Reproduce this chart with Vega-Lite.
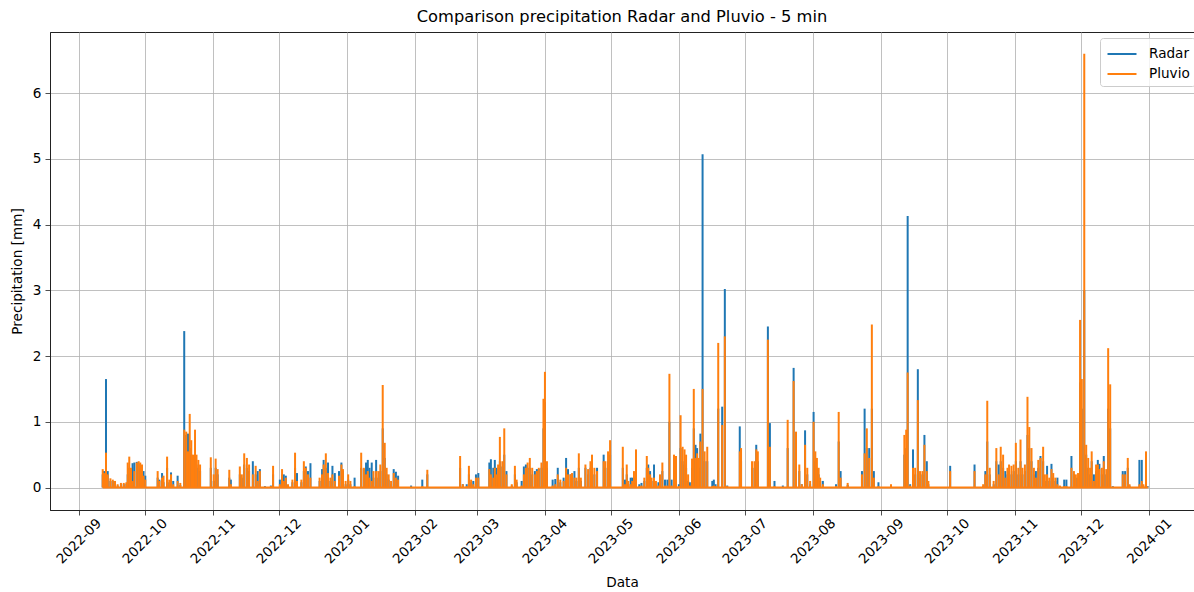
{
  "$schema": "https://vega.github.io/schema/vega-lite/v6.json",
  "autosize": {"type": "none"},
  "padding": {"left": 50, "top": 32, "right": 0, "bottom": 82},
  "width": 1144,
  "height": 478,
  "background": "white",
  "title": {
    "text": "Comparison precipitation Radar and Pluvio - 5 min",
    "font": "DejaVu Sans",
    "fontSize": 16.3,
    "fontWeight": "normal",
    "color": "#000000",
    "anchor": "middle",
    "offset": 7
  },
  "config": {
    "font": "DejaVu Sans",
    "view": {"stroke": "#222222", "strokeWidth": 1},
    "axis": {
      "labelFont": "DejaVu Sans",
      "labelFontSize": 13.6,
      "labelColor": "#000000",
      "titleFont": "DejaVu Sans",
      "titleFontSize": 13.6,
      "titleFontWeight": "normal",
      "titleColor": "#000000",
      "gridColor": "#b0b0b0",
      "gridWidth": 0.8,
      "domainColor": "#222222",
      "domainWidth": 1,
      "tickColor": "#222222",
      "tickWidth": 0.8,
      "tickSize": 5
    }
  },
  "data": {
    "values": [
      {"time": "2022-09-11T22:00", "radar": 0.2, "pluvio": 0.28},
      {"time": "2022-09-12T12:00", "radar": 0.25, "pluvio": 0.22},
      {"time": "2022-09-13T10:00", "radar": 1.65, "pluvio": 0.53},
      {"time": "2022-09-14T05:00", "radar": 0.25, "pluvio": 0.2},
      {"time": "2022-09-15T10:00", "radar": 0.1, "pluvio": 0.14},
      {"time": "2022-09-16T12:00", "radar": 0.1, "pluvio": 0.12},
      {"time": "2022-09-17T12:00", "radar": 0.08, "pluvio": 0.1},
      {"time": "2022-09-18T17:00", "radar": 0.03, "pluvio": 0.05},
      {"time": "2022-09-20T05:00", "radar": 0.05, "pluvio": 0.07},
      {"time": "2022-09-21T12:00", "radar": 0.05, "pluvio": 0.07},
      {"time": "2022-09-22T17:00", "radar": 0.06, "pluvio": 0.08},
      {"time": "2022-09-23T07:00", "radar": 0.2, "pluvio": 0.38},
      {"time": "2022-09-24T00:00", "radar": 0.3, "pluvio": 0.47},
      {"time": "2022-09-24T19:00", "radar": 0.2, "pluvio": 0.3},
      {"time": "2022-09-25T12:00", "radar": 0.37, "pluvio": 0.1},
      {"time": "2022-09-26T07:00", "radar": 0.38, "pluvio": 0.25},
      {"time": "2022-09-27T10:00", "radar": 0.39, "pluvio": 0.38},
      {"time": "2022-09-28T07:00", "radar": 0.36, "pluvio": 0.4},
      {"time": "2022-09-29T00:00", "radar": 0.3, "pluvio": 0.38},
      {"time": "2022-09-29T19:00", "radar": 0.25, "pluvio": 0.35},
      {"time": "2022-09-30T12:00", "radar": 0.25, "pluvio": 0.18},
      {"time": "2022-10-01T07:00", "radar": 0.18, "pluvio": 0.12},
      {"time": "2022-10-06T22:00", "radar": 0.15, "pluvio": 0.25},
      {"time": "2022-10-07T17:00", "radar": 0.12, "pluvio": 0.1},
      {"time": "2022-10-08T22:00", "radar": 0.22, "pluvio": 0.15},
      {"time": "2022-10-09T14:00", "radar": 0.08, "pluvio": 0.18},
      {"time": "2022-10-11T05:00", "radar": 0.3, "pluvio": 0.47},
      {"time": "2022-10-12T05:00", "radar": 0.08, "pluvio": 0.12},
      {"time": "2022-10-13T00:00", "radar": 0.23, "pluvio": 0.2},
      {"time": "2022-10-14T00:00", "radar": 0.1, "pluvio": 0.05},
      {"time": "2022-10-16T00:00", "radar": 0.18, "pluvio": 0.1},
      {"time": "2022-10-17T05:00", "radar": 0.04, "pluvio": 0.07},
      {"time": "2022-10-19T00:00", "radar": 2.38, "pluvio": 0.88},
      {"time": "2022-10-19T22:00", "radar": 0.8, "pluvio": 0.85},
      {"time": "2022-10-20T17:00", "radar": 0.82, "pluvio": 0.55},
      {"time": "2022-10-21T12:00", "radar": 0.6, "pluvio": 1.12},
      {"time": "2022-10-22T05:00", "radar": 0.5, "pluvio": 0.72},
      {"time": "2022-10-23T00:00", "radar": 0.4, "pluvio": 0.5},
      {"time": "2022-10-23T22:00", "radar": 0.5, "pluvio": 0.88},
      {"time": "2022-10-24T14:00", "radar": 0.35, "pluvio": 0.5},
      {"time": "2022-10-25T10:00", "radar": 0.3, "pluvio": 0.42},
      {"time": "2022-10-26T05:00", "radar": 0.25, "pluvio": 0.35},
      {"time": "2022-10-31T02:00", "radar": 0.3, "pluvio": 0.46},
      {"time": "2022-11-01T10:00", "radar": 0.1, "pluvio": 0.2},
      {"time": "2022-11-02T07:00", "radar": 0.3, "pluvio": 0.44},
      {"time": "2022-11-03T05:00", "radar": 0.2, "pluvio": 0.28},
      {"time": "2022-11-08T12:00", "radar": 0.15, "pluvio": 0.27},
      {"time": "2022-11-09T05:00", "radar": 0.12, "pluvio": 0.05},
      {"time": "2022-11-13T07:00", "radar": 0.2, "pluvio": 0.32},
      {"time": "2022-11-14T05:00", "radar": 0.15, "pluvio": 0.2},
      {"time": "2022-11-15T07:00", "radar": 0.35, "pluvio": 0.52},
      {"time": "2022-11-16T12:00", "radar": 0.3, "pluvio": 0.45},
      {"time": "2022-11-17T12:00", "radar": 0.25, "pluvio": 0.35},
      {"time": "2022-11-19T05:00", "radar": 0.4, "pluvio": 0.2},
      {"time": "2022-11-20T12:00", "radar": 0.2, "pluvio": 0.33},
      {"time": "2022-11-21T10:00", "radar": 0.25, "pluvio": 0.1},
      {"time": "2022-11-22T10:00", "radar": 0.28, "pluvio": 0.25},
      {"time": "2022-11-24T17:00", "radar": 0.02, "pluvio": 0.01},
      {"time": "2022-11-27T10:00", "radar": 0.03, "pluvio": 0.02},
      {"time": "2022-11-28T10:00", "radar": 0.2, "pluvio": 0.33},
      {"time": "2022-12-01T12:00", "radar": 0.12, "pluvio": 0.05},
      {"time": "2022-12-02T12:00", "radar": 0.2, "pluvio": 0.28},
      {"time": "2022-12-03T07:00", "radar": 0.2, "pluvio": 0.1},
      {"time": "2022-12-04T05:00", "radar": 0.18, "pluvio": 0.15},
      {"time": "2022-12-05T05:00", "radar": 0.03, "pluvio": 0.05},
      {"time": "2022-12-07T05:00", "radar": 0.08, "pluvio": 0.12},
      {"time": "2022-12-08T10:00", "radar": 0.3, "pluvio": 0.53},
      {"time": "2022-12-09T07:00", "radar": 0.22, "pluvio": 0.1},
      {"time": "2022-12-11T07:00", "radar": 0.08, "pluvio": 0.12},
      {"time": "2022-12-12T10:00", "radar": 0.25, "pluvio": 0.4},
      {"time": "2022-12-13T07:00", "radar": 0.32, "pluvio": 0.3},
      {"time": "2022-12-14T07:00", "radar": 0.25, "pluvio": 0.2},
      {"time": "2022-12-15T10:00", "radar": 0.37, "pluvio": 0.15},
      {"time": "2022-12-19T14:00", "radar": 0.1, "pluvio": 0.15},
      {"time": "2022-12-20T17:00", "radar": 0.28, "pluvio": 0.2},
      {"time": "2022-12-21T10:00", "radar": 0.42, "pluvio": 0.35},
      {"time": "2022-12-22T10:00", "radar": 0.3, "pluvio": 0.52},
      {"time": "2022-12-23T10:00", "radar": 0.38, "pluvio": 0.22},
      {"time": "2022-12-24T12:00", "radar": 0.1, "pluvio": 0.15},
      {"time": "2022-12-25T10:00", "radar": 0.33, "pluvio": 0.2},
      {"time": "2022-12-26T12:00", "radar": 0.22, "pluvio": 0.1},
      {"time": "2022-12-28T10:00", "radar": 0.25, "pluvio": 0.18},
      {"time": "2022-12-29T12:00", "radar": 0.38, "pluvio": 0.35},
      {"time": "2022-12-30T05:00", "radar": 0.25, "pluvio": 0.28},
      {"time": "2022-12-31T10:00", "radar": 0.05, "pluvio": 0.1},
      {"time": "2023-01-01T14:00", "radar": 0.12, "pluvio": 0.2},
      {"time": "2023-01-02T14:00", "radar": 0.05, "pluvio": 0.1},
      {"time": "2023-01-04T12:00", "radar": 0.15, "pluvio": 0.02},
      {"time": "2023-01-07T12:00", "radar": 0.3, "pluvio": 0.53},
      {"time": "2023-01-08T17:00", "radar": 0.28, "pluvio": 0.3},
      {"time": "2023-01-09T17:00", "radar": 0.38, "pluvio": 0.2},
      {"time": "2023-01-10T12:00", "radar": 0.42, "pluvio": 0.25},
      {"time": "2023-01-11T07:00", "radar": 0.3, "pluvio": 0.15},
      {"time": "2023-01-12T07:00", "radar": 0.38, "pluvio": 0.1},
      {"time": "2023-01-13T02:00", "radar": 0.15, "pluvio": 0.25},
      {"time": "2023-01-14T07:00", "radar": 0.42, "pluvio": 0.25},
      {"time": "2023-01-15T07:00", "radar": 0.15, "pluvio": 0.25},
      {"time": "2023-01-16T05:00", "radar": 0.25, "pluvio": 0.35},
      {"time": "2023-01-17T07:00", "radar": 0.9, "pluvio": 1.56},
      {"time": "2023-01-18T05:00", "radar": 0.45, "pluvio": 0.68},
      {"time": "2023-01-19T02:00", "radar": 0.2, "pluvio": 0.3},
      {"time": "2023-01-20T00:00", "radar": 0.12, "pluvio": 0.2},
      {"time": "2023-01-21T02:00", "radar": 0.05, "pluvio": 0.1},
      {"time": "2023-01-22T07:00", "radar": 0.28, "pluvio": 0.22},
      {"time": "2023-01-23T07:00", "radar": 0.24, "pluvio": 0.15},
      {"time": "2023-01-24T07:00", "radar": 0.18, "pluvio": 0.12},
      {"time": "2023-01-30T05:00", "radar": 0.03, "pluvio": 0.01},
      {"time": "2023-02-04T07:00", "radar": 0.12, "pluvio": 0.02},
      {"time": "2023-02-06T14:00", "radar": 0.2, "pluvio": 0.27},
      {"time": "2023-02-21T12:00", "radar": 0.3, "pluvio": 0.48},
      {"time": "2023-02-22T17:00", "radar": 0.05, "pluvio": 0.05},
      {"time": "2023-02-24T12:00", "radar": 0.05, "pluvio": 0.02},
      {"time": "2023-02-25T12:00", "radar": 0.2, "pluvio": 0.33},
      {"time": "2023-02-26T12:00", "radar": 0.08, "pluvio": 0.12},
      {"time": "2023-02-27T12:00", "radar": 0.1, "pluvio": 0.05},
      {"time": "2023-02-28T17:00", "radar": 0.2, "pluvio": 0.15},
      {"time": "2023-03-01T19:00", "radar": 0.22, "pluvio": 0.15},
      {"time": "2023-03-06T19:00", "radar": 0.38, "pluvio": 0.28},
      {"time": "2023-03-07T12:00", "radar": 0.43, "pluvio": 0.2},
      {"time": "2023-03-08T14:00", "radar": 0.3, "pluvio": 0.15},
      {"time": "2023-03-09T07:00", "radar": 0.42, "pluvio": 0.3},
      {"time": "2023-03-10T02:00", "radar": 0.3, "pluvio": 0.2},
      {"time": "2023-03-10T19:00", "radar": 0.2, "pluvio": 0.35},
      {"time": "2023-03-11T14:00", "radar": 0.4, "pluvio": 0.77},
      {"time": "2023-03-12T17:00", "radar": 0.32, "pluvio": 0.4},
      {"time": "2023-03-13T14:00", "radar": 0.5, "pluvio": 0.9},
      {"time": "2023-03-14T14:00", "radar": 0.25, "pluvio": 0.2},
      {"time": "2023-03-17T00:00", "radar": 0.03, "pluvio": 0.05},
      {"time": "2023-03-18T10:00", "radar": 0.2, "pluvio": 0.33},
      {"time": "2023-03-19T05:00", "radar": 0.08, "pluvio": 0.12},
      {"time": "2023-03-21T12:00", "radar": 0.1, "pluvio": 0.03},
      {"time": "2023-03-22T12:00", "radar": 0.32, "pluvio": 0.2},
      {"time": "2023-03-23T10:00", "radar": 0.35, "pluvio": 0.3},
      {"time": "2023-03-24T05:00", "radar": 0.3, "pluvio": 0.38},
      {"time": "2023-03-25T05:00", "radar": 0.3, "pluvio": 0.45},
      {"time": "2023-03-26T07:00", "radar": 0.2, "pluvio": 0.3},
      {"time": "2023-03-27T12:00", "radar": 0.25, "pluvio": 0.2},
      {"time": "2023-03-28T10:00", "radar": 0.28, "pluvio": 0.25},
      {"time": "2023-03-29T07:00", "radar": 0.28, "pluvio": 0.3},
      {"time": "2023-03-30T12:00", "radar": 0.3, "pluvio": 0.38},
      {"time": "2023-03-31T10:00", "radar": 0.9, "pluvio": 1.35},
      {"time": "2023-04-01T02:00", "radar": 1.3, "pluvio": 1.76},
      {"time": "2023-04-02T00:00", "radar": 0.3, "pluvio": 0.4},
      {"time": "2023-04-04T14:00", "radar": 0.12, "pluvio": 0.03},
      {"time": "2023-04-05T19:00", "radar": 0.13, "pluvio": 0.05},
      {"time": "2023-04-06T22:00", "radar": 0.3, "pluvio": 0.2},
      {"time": "2023-04-08T02:00", "radar": 0.08, "pluvio": 0.12},
      {"time": "2023-04-09T14:00", "radar": 0.15, "pluvio": 0.1},
      {"time": "2023-04-10T17:00", "radar": 0.45, "pluvio": 0.3},
      {"time": "2023-04-11T14:00", "radar": 0.28, "pluvio": 0.2},
      {"time": "2023-04-12T17:00", "radar": 0.2, "pluvio": 0.2},
      {"time": "2023-04-13T10:00", "radar": 0.15, "pluvio": 0.22},
      {"time": "2023-04-14T12:00", "radar": 0.25, "pluvio": 0.15},
      {"time": "2023-04-15T10:00", "radar": 0.1, "pluvio": 0.15},
      {"time": "2023-04-16T12:00", "radar": 0.3, "pluvio": 0.52},
      {"time": "2023-04-17T10:00", "radar": 0.1, "pluvio": 0.15},
      {"time": "2023-04-19T12:00", "radar": 0.3, "pluvio": 0.35},
      {"time": "2023-04-20T17:00", "radar": 0.2, "pluvio": 0.28},
      {"time": "2023-04-21T19:00", "radar": 0.3, "pluvio": 0.4},
      {"time": "2023-04-22T12:00", "radar": 0.35, "pluvio": 0.5},
      {"time": "2023-04-23T14:00", "radar": 0.2, "pluvio": 0.3},
      {"time": "2023-04-24T19:00", "radar": 0.3, "pluvio": 0.25},
      {"time": "2023-04-27T19:00", "radar": 0.5, "pluvio": 0.4},
      {"time": "2023-04-28T14:00", "radar": 0.3, "pluvio": 0.4},
      {"time": "2023-04-29T19:00", "radar": 0.4, "pluvio": 0.55},
      {"time": "2023-04-30T17:00", "radar": 0.5, "pluvio": 0.72},
      {"time": "2023-05-06T12:00", "radar": 0.3, "pluvio": 0.62},
      {"time": "2023-05-07T12:00", "radar": 0.12, "pluvio": 0.05},
      {"time": "2023-05-08T07:00", "radar": 0.2, "pluvio": 0.35},
      {"time": "2023-05-09T00:00", "radar": 0.05, "pluvio": 0.1},
      {"time": "2023-05-10T02:00", "radar": 0.15, "pluvio": 0.05},
      {"time": "2023-05-10T19:00", "radar": 0.15, "pluvio": 0.1},
      {"time": "2023-05-11T14:00", "radar": 0.15, "pluvio": 0.25},
      {"time": "2023-05-12T12:00", "radar": 0.3, "pluvio": 0.58},
      {"time": "2023-05-14T00:00", "radar": 0.05, "pluvio": 0.02},
      {"time": "2023-05-15T00:00", "radar": 0.07, "pluvio": 0.03},
      {"time": "2023-05-16T07:00", "radar": 0.1, "pluvio": 0.15},
      {"time": "2023-05-17T10:00", "radar": 0.3, "pluvio": 0.48},
      {"time": "2023-05-18T02:00", "radar": 0.35, "pluvio": 0.3},
      {"time": "2023-05-18T22:00", "radar": 0.25, "pluvio": 0.2},
      {"time": "2023-05-19T14:00", "radar": 0.1, "pluvio": 0.15},
      {"time": "2023-05-20T17:00", "radar": 0.35, "pluvio": 0.15},
      {"time": "2023-05-21T14:00", "radar": 0.05, "pluvio": 0.1},
      {"time": "2023-05-22T17:00", "radar": 0.08, "pluvio": 0.03},
      {"time": "2023-05-23T10:00", "radar": 0.12, "pluvio": 0.2},
      {"time": "2023-05-24T12:00", "radar": 0.25, "pluvio": 0.38},
      {"time": "2023-05-25T17:00", "radar": 0.12, "pluvio": 0.03},
      {"time": "2023-05-26T19:00", "radar": 0.12, "pluvio": 0.03},
      {"time": "2023-05-27T17:00", "radar": 1.0, "pluvio": 1.73},
      {"time": "2023-05-28T17:00", "radar": 0.12, "pluvio": 0.03},
      {"time": "2023-05-29T19:00", "radar": 0.3, "pluvio": 0.5},
      {"time": "2023-05-30T17:00", "radar": 0.3, "pluvio": 0.48},
      {"time": "2023-06-01T00:00", "radar": 0.05, "pluvio": 0.02},
      {"time": "2023-06-01T19:00", "radar": 0.6, "pluvio": 1.1},
      {"time": "2023-06-02T17:00", "radar": 0.4, "pluvio": 0.62},
      {"time": "2023-06-03T14:00", "radar": 0.35, "pluvio": 0.58},
      {"time": "2023-06-04T07:00", "radar": 0.3, "pluvio": 0.5},
      {"time": "2023-06-05T05:00", "radar": 0.1, "pluvio": 0.2},
      {"time": "2023-06-06T00:00", "radar": 0.08, "pluvio": 0.03},
      {"time": "2023-06-07T00:00", "radar": 0.3, "pluvio": 0.44},
      {"time": "2023-06-07T19:00", "radar": 0.9, "pluvio": 1.5},
      {"time": "2023-06-08T14:00", "radar": 0.65, "pluvio": 0.45},
      {"time": "2023-06-09T07:00", "radar": 0.6, "pluvio": 0.52},
      {"time": "2023-06-10T02:00", "radar": 0.3, "pluvio": 0.45},
      {"time": "2023-06-10T19:00", "radar": 0.82, "pluvio": 0.7},
      {"time": "2023-06-11T19:00", "radar": 5.07, "pluvio": 1.5},
      {"time": "2023-06-12T17:00", "radar": 0.4, "pluvio": 0.55},
      {"time": "2023-06-13T22:00", "radar": 0.4, "pluvio": 0.62},
      {"time": "2023-06-16T05:00", "radar": 0.1, "pluvio": 0.02},
      {"time": "2023-06-16T22:00", "radar": 0.12, "pluvio": 0.03},
      {"time": "2023-06-17T17:00", "radar": 0.05, "pluvio": 0.02},
      {"time": "2023-06-18T22:00", "radar": 1.2, "pluvio": 2.2},
      {"time": "2023-06-20T17:00", "radar": 1.23, "pluvio": 0.95},
      {"time": "2023-06-21T22:00", "radar": 3.02, "pluvio": 2.3},
      {"time": "2023-06-23T00:00", "radar": 0.03, "pluvio": 0.02},
      {"time": "2023-06-28T17:00", "radar": 0.93, "pluvio": 0.55},
      {"time": "2023-06-29T07:00", "radar": 0.4, "pluvio": 0.6},
      {"time": "2023-07-04T07:00", "radar": 0.3, "pluvio": 0.4},
      {"time": "2023-07-05T10:00", "radar": 0.3, "pluvio": 0.4},
      {"time": "2023-07-06T05:00", "radar": 0.65, "pluvio": 0.58},
      {"time": "2023-07-06T22:00", "radar": 0.4, "pluvio": 0.55},
      {"time": "2023-07-11T12:00", "radar": 2.45, "pluvio": 2.25},
      {"time": "2023-07-12T10:00", "radar": 0.98, "pluvio": 0.62},
      {"time": "2023-07-14T12:00", "radar": 0.1, "pluvio": 0.02},
      {"time": "2023-07-18T07:00", "radar": 0.03, "pluvio": 0.01},
      {"time": "2023-07-20T12:00", "radar": 0.6, "pluvio": 1.03},
      {"time": "2023-07-23T05:00", "radar": 1.82, "pluvio": 1.62},
      {"time": "2023-07-24T07:00", "radar": 0.6, "pluvio": 0.85},
      {"time": "2023-07-25T19:00", "radar": 0.25, "pluvio": 0.35},
      {"time": "2023-07-26T22:00", "radar": 0.05, "pluvio": 0.05},
      {"time": "2023-07-28T10:00", "radar": 0.87, "pluvio": 0.65},
      {"time": "2023-07-29T10:00", "radar": 0.2, "pluvio": 0.3},
      {"time": "2023-07-30T17:00", "radar": 0.05, "pluvio": 0.1},
      {"time": "2023-08-01T07:00", "radar": 1.15, "pluvio": 1.0},
      {"time": "2023-08-02T02:00", "radar": 0.4, "pluvio": 0.55},
      {"time": "2023-08-02T19:00", "radar": 0.3, "pluvio": 0.45},
      {"time": "2023-08-03T14:00", "radar": 0.2, "pluvio": 0.3},
      {"time": "2023-08-04T07:00", "radar": 0.1, "pluvio": 0.15},
      {"time": "2023-08-05T12:00", "radar": 0.1, "pluvio": 0.05},
      {"time": "2023-08-11T12:00", "radar": 0.05, "pluvio": 0.02},
      {"time": "2023-08-12T17:00", "radar": 0.7, "pluvio": 1.15},
      {"time": "2023-08-13T14:00", "radar": 0.25, "pluvio": 0.15},
      {"time": "2023-08-16T19:00", "radar": 0.04, "pluvio": 0.07},
      {"time": "2023-08-23T07:00", "radar": 0.25, "pluvio": 0.2},
      {"time": "2023-08-24T12:00", "radar": 1.2, "pluvio": 0.52},
      {"time": "2023-08-25T12:00", "radar": 0.6, "pluvio": 0.9},
      {"time": "2023-08-26T14:00", "radar": 0.6, "pluvio": 0.45},
      {"time": "2023-08-27T19:00", "radar": 1.2, "pluvio": 2.48},
      {"time": "2023-08-28T17:00", "radar": 0.25, "pluvio": 0.15},
      {"time": "2023-08-30T19:00", "radar": 0.08, "pluvio": 0.02},
      {"time": "2023-09-05T12:00", "radar": 0.03, "pluvio": 0.05},
      {"time": "2023-09-11T14:00", "radar": 0.5, "pluvio": 0.8},
      {"time": "2023-09-12T10:00", "radar": 0.6, "pluvio": 0.88},
      {"time": "2023-09-13T02:00", "radar": 4.13, "pluvio": 1.75},
      {"time": "2023-09-14T05:00", "radar": 0.05, "pluvio": 0.03},
      {"time": "2023-09-15T12:00", "radar": 0.58, "pluvio": 0.3},
      {"time": "2023-09-16T12:00", "radar": 0.2, "pluvio": 0.3},
      {"time": "2023-09-17T17:00", "radar": 1.8, "pluvio": 1.33},
      {"time": "2023-09-18T17:00", "radar": 0.15, "pluvio": 0.25},
      {"time": "2023-09-19T19:00", "radar": 0.2, "pluvio": 0.25},
      {"time": "2023-09-20T17:00", "radar": 0.8, "pluvio": 0.65},
      {"time": "2023-09-21T19:00", "radar": 0.4, "pluvio": 0.25},
      {"time": "2023-09-22T12:00", "radar": 0.05, "pluvio": 0.1},
      {"time": "2023-10-02T10:00", "radar": 0.33, "pluvio": 0.25},
      {"time": "2023-10-13T12:00", "radar": 0.35, "pluvio": 0.25},
      {"time": "2023-10-17T10:00", "radar": 0.02, "pluvio": 0.05},
      {"time": "2023-10-18T10:00", "radar": 0.25, "pluvio": 0.2},
      {"time": "2023-10-19T07:00", "radar": 0.7, "pluvio": 1.32},
      {"time": "2023-10-20T10:00", "radar": 0.2, "pluvio": 0.3},
      {"time": "2023-10-22T05:00", "radar": 0.05, "pluvio": 0.1},
      {"time": "2023-10-23T10:00", "radar": 0.4, "pluvio": 0.6},
      {"time": "2023-10-24T12:00", "radar": 0.35, "pluvio": 0.2},
      {"time": "2023-10-25T10:00", "radar": 0.4, "pluvio": 0.62},
      {"time": "2023-10-26T12:00", "radar": 0.3, "pluvio": 0.5},
      {"time": "2023-10-27T12:00", "radar": 0.25, "pluvio": 0.15},
      {"time": "2023-10-28T12:00", "radar": 0.2, "pluvio": 0.3},
      {"time": "2023-10-29T05:00", "radar": 0.25, "pluvio": 0.35},
      {"time": "2023-10-30T07:00", "radar": 0.2, "pluvio": 0.33},
      {"time": "2023-10-31T07:00", "radar": 0.25, "pluvio": 0.35},
      {"time": "2023-11-01T07:00", "radar": 0.4, "pluvio": 0.68},
      {"time": "2023-11-02T10:00", "radar": 0.2, "pluvio": 0.3},
      {"time": "2023-11-03T10:00", "radar": 0.4, "pluvio": 0.73},
      {"time": "2023-11-04T07:00", "radar": 0.2, "pluvio": 0.3},
      {"time": "2023-11-05T10:00", "radar": 0.25, "pluvio": 0.35},
      {"time": "2023-11-06T14:00", "radar": 0.8, "pluvio": 1.38},
      {"time": "2023-11-07T10:00", "radar": 0.6, "pluvio": 0.92},
      {"time": "2023-11-08T10:00", "radar": 0.4, "pluvio": 0.6},
      {"time": "2023-11-09T12:00", "radar": 0.2, "pluvio": 0.3},
      {"time": "2023-11-10T10:00", "radar": 0.25, "pluvio": 0.15},
      {"time": "2023-11-11T12:00", "radar": 0.3, "pluvio": 0.42},
      {"time": "2023-11-12T12:00", "radar": 0.48, "pluvio": 0.45},
      {"time": "2023-11-13T17:00", "radar": 0.4, "pluvio": 0.62},
      {"time": "2023-11-14T12:00", "radar": 0.1, "pluvio": 0.2},
      {"time": "2023-11-15T12:00", "radar": 0.33, "pluvio": 0.2},
      {"time": "2023-11-16T12:00", "radar": 0.1, "pluvio": 0.15},
      {"time": "2023-11-17T12:00", "radar": 0.36, "pluvio": 0.28},
      {"time": "2023-11-18T07:00", "radar": 0.15, "pluvio": 0.22},
      {"time": "2023-11-19T07:00", "radar": 0.1, "pluvio": 0.15},
      {"time": "2023-11-20T05:00", "radar": 0.15, "pluvio": 0.05},
      {"time": "2023-11-21T07:00", "radar": 0.02, "pluvio": 0.03},
      {"time": "2023-11-23T07:00", "radar": 0.12, "pluvio": 0.02},
      {"time": "2023-11-24T07:00", "radar": 0.12, "pluvio": 0.02},
      {"time": "2023-11-26T14:00", "radar": 0.48, "pluvio": 0.3},
      {"time": "2023-11-27T17:00", "radar": 0.2, "pluvio": 0.25},
      {"time": "2023-11-28T14:00", "radar": 0.15, "pluvio": 0.2},
      {"time": "2023-11-29T14:00", "radar": 0.15, "pluvio": 0.22},
      {"time": "2023-11-30T12:00", "radar": 1.6, "pluvio": 2.55},
      {"time": "2023-12-01T07:00", "radar": 1.2, "pluvio": 1.65},
      {"time": "2023-12-02T10:00", "radar": 3.0, "pluvio": 6.6},
      {"time": "2023-12-03T07:00", "radar": 0.5, "pluvio": 0.65},
      {"time": "2023-12-04T05:00", "radar": 0.3, "pluvio": 0.45},
      {"time": "2023-12-05T02:00", "radar": 0.2, "pluvio": 0.3},
      {"time": "2023-12-05T19:00", "radar": 0.4, "pluvio": 0.55},
      {"time": "2023-12-06T19:00", "radar": 0.2, "pluvio": 0.1},
      {"time": "2023-12-07T19:00", "radar": 0.25, "pluvio": 0.35},
      {"time": "2023-12-08T14:00", "radar": 0.42, "pluvio": 0.35},
      {"time": "2023-12-09T07:00", "radar": 0.36, "pluvio": 0.28},
      {"time": "2023-12-10T10:00", "radar": 0.2, "pluvio": 0.3},
      {"time": "2023-12-11T07:00", "radar": 0.48, "pluvio": 0.4},
      {"time": "2023-12-12T10:00", "radar": 0.2, "pluvio": 0.28},
      {"time": "2023-12-13T07:00", "radar": 1.2, "pluvio": 2.12},
      {"time": "2023-12-14T05:00", "radar": 0.9, "pluvio": 1.57},
      {"time": "2023-12-15T10:00", "radar": 0.02, "pluvio": 0.01},
      {"time": "2023-12-19T22:00", "radar": 0.25, "pluvio": 0.2},
      {"time": "2023-12-21T00:00", "radar": 0.25, "pluvio": 0.2},
      {"time": "2023-12-22T05:00", "radar": 0.3, "pluvio": 0.45},
      {"time": "2023-12-23T00:00", "radar": 0.03, "pluvio": 0.05},
      {"time": "2023-12-27T12:00", "radar": 0.42, "pluvio": 0.05},
      {"time": "2023-12-28T14:00", "radar": 0.42, "pluvio": 0.1},
      {"time": "2023-12-29T07:00", "radar": 0.03, "pluvio": 0.05},
      {"time": "2023-12-30T12:00", "radar": 0.3, "pluvio": 0.55},
      {"time": "2023-12-31T07:00", "radar": 0.02, "pluvio": 0.01}
    ]
  },
  "encoding": {
    "x": {
      "field": "time",
      "type": "temporal",
      "scale": {
        "domain": [
          {"year": 2022, "month": 8, "date": 18, "hours": 22, "minutes": 40},
          {"year": 2024, "month": 1, "date": 21, "hours": 8}
        ],
        "nice": false
      },
      "axis": {
        "title": "Data",
        "format": "%Y-%m",
        "tickCount": {"interval": "month", "step": 1},
        "labelAngle": -45,
        "labelAlign": "center",
        "labelBaseline": "middle",
        "labelPadding": 26,
        "labelOverlap": false,
        "labelFlush": false,
        "titlePadding": 10,
        "grid": true
      }
    }
  },
  "layer": [
    {
      "mark": {"type": "rule", "strokeWidth": 2},
      "encoding": {
        "y": {
          "field": "radar",
          "type": "quantitative",
          "scale": {"domain": [-0.342, 6.93], "nice": false, "zero": false},
          "axis": {
            "title": "Precipitation [mm]",
            "values": [0, 1, 2, 3, 4, 5, 6],
            "format": "d",
            "labelPadding": 4,
            "titlePadding": 8,
            "grid": true
          }
        },
        "y2": {"datum": 0},
        "color": {
          "datum": "Radar",
          "scale": {"domain": ["Radar", "Pluvio"], "range": ["#1f77b4", "#ff7f0e"]},
          "legend": {
            "title": null,
            "orient": "none",
            "legendX": 1050,
            "legendY": 6,
            "symbolType": "M-1.45,0H1.45",
            "symbolStrokeWidth": 2,
            "symbolSize": 400,
            "symbolOffset": 6,
            "labelOffset": 16,
            "labelFontSize": 13.6,
            "labelFont": "DejaVu Sans",
            "labelColor": "#000000",
            "fillColor": "rgba(255,255,255,0.8)",
            "strokeColor": "#cccccc",
            "cornerRadius": 3,
            "padding": 5,
            "rowPadding": 2
          }
        }
      }
    },
    {
      "mark": {"type": "rule", "strokeWidth": 2},
      "encoding": {
        "y": {
          "field": "pluvio",
          "type": "quantitative",
          "scale": {"domain": [-0.342, 6.93], "nice": false, "zero": false},
          "axis": {"title": "Precipitation [mm]"}
        },
        "y2": {"datum": 0},
        "color": {"datum": "Pluvio"}
      }
    },
    {
      "mark": {"type": "rule", "strokeWidth": 2, "color": "#ff7f0e"},
      "encoding": {
        "x": {"aggregate": "min", "field": "time", "type": "temporal"},
        "x2": {"aggregate": "max", "field": "time"},
        "y": {
          "datum": 0,
          "type": "quantitative",
          "scale": {"domain": [-0.342, 6.93], "nice": false, "zero": false},
          "axis": {"title": "Precipitation [mm]"}
        }
      }
    }
  ]
}
